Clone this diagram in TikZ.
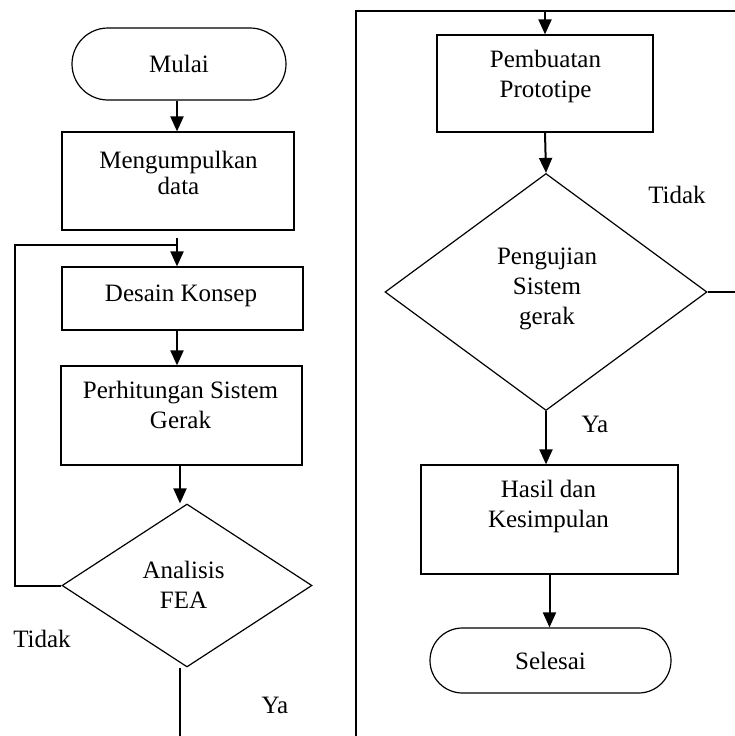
\documentclass[tikz,border=0pt]{standalone}
\usepackage{fontspec}
\setmainfont{Liberation Serif}
\usetikzlibrary{shapes.geometric,arrows.meta}
\begin{document}
\begin{tikzpicture}[x=1pt,y=-1pt,
  every node/.style={font=\fontsize{25}{30}\selectfont},
  procbox/.style={draw,rectangle,line width=1.2pt,inner sep=0pt},
  termbox/.style={draw,rectangle,line width=1.2pt,inner sep=0pt},
  decbox/.style={draw,diamond,line width=1.2pt,inner sep=0pt},
  lbl/.style={align=center,inner sep=0pt},
  flow/.style={line width=2pt,-{Triangle[width=13pt,length=15pt]}},
  wire/.style={line width=2pt},
]
\useasboundingbox (0,0) rectangle (735,736);

% left column
\node[termbox, rounded corners=36pt, minimum width=214pt, minimum height=72pt] (mulai) at (179,64) {Mulai};
\node[procbox, minimum width=232pt, minimum height=98pt] (kumpul) at (178,181) {};
\node[lbl, font=\fontsize{25}{26}\selectfont] (kumpult) at (178.5,173) {Mengumpulkan\\data};
\node[procbox, minimum width=241pt, minimum height=63pt] (desain) at (182.5,298.5) {};
\node[lbl] (desaint) at (181,296.2) {Desain Konsep};
\node[procbox, minimum width=241pt, minimum height=99pt] (hitung) at (181.5,415.5) {};
\node[lbl] (hitungt) at (180.5,404.5) {Perhitungan Sistem\\Gerak};
\node[decbox, minimum width=250pt, minimum height=163pt] (fea) at (187,585.5) {};
\node[lbl] (feat) at (183.5,584.5) {Analisis\\FEA};
\node[lbl, anchor=base] (tidak1) at (42,647) {Tidak};
\node[lbl, anchor=base] (ya1) at (275,713) {Ya};

% right column
\node[procbox, minimum width=216pt, minimum height=97pt] (proto) at (545,83.5) {};
\node[lbl] (protot) at (545.5,76.7) {Pembuatan\\Prototipe};
\node[decbox, minimum width=322pt, minimum height=237pt] (uji) at (546,292) {};
\node[lbl] (ujit) at (547,289.2) {Pengujian\\Sistem\\gerak};
\node[procbox, minimum width=257pt, minimum height=109pt] (hasil) at (549.5,519.5) {};
\node[lbl] (hasilt) at (548.5,506.2) {Hasil dan\\Kesimpulan};
\node[termbox, rounded corners=32.5pt, minimum width=241pt, minimum height=65pt] (selesai) at (550.5,660.5) {Selesai};
\node[lbl, anchor=base] (tidak2) at (677,203) {Tidak};
\node[lbl, anchor=base] (ya2) at (595,432) {Ya};

% coordinates
\coordinate (j1) at (177,238);
\coordinate (loopj) at (177,245);
\coordinate (loopc) at (15,245);
\coordinate (axis2) at (180,0);
\coordinate (feaout) at (180,736);
\coordinate (bordb) at (356,736);
\coordinate (bordt) at (356,11);
\coordinate (bordr) at (735,11);
\coordinate (topin) at (545,11);
\coordinate (ujiout) at (735,292);

% connectors left
\draw[flow] (mulai.south -| j1) -- (kumpul.north -| j1);
\draw[flow] (j1) -- (j1 |- desain.north);
\draw[flow] (desain.south -| j1) -- (hitung.north -| j1);
\draw[flow] (hitung.south -| axis2) -- (fea.north -| axis2);
\draw[wire] (fea.south -| axis2) -- (feaout);
\draw[wire] (fea.west) -- (fea.west -| loopc) -- (loopc) -- (loopj);

% connectors right
\draw[wire] (bordb) -- (bordt) -- (bordr);
\draw[flow] (topin) -- (proto.north -| topin);
\draw[flow] (proto.south) -- (uji.north);
\draw[flow] (uji.south) -- (uji.south |- hasil.north);
\draw[flow] (hasil.south) -- (hasil.south |- selesai.north);
\draw[wire] (uji.east) -- (ujiout);
\end{tikzpicture}
\end{document}
